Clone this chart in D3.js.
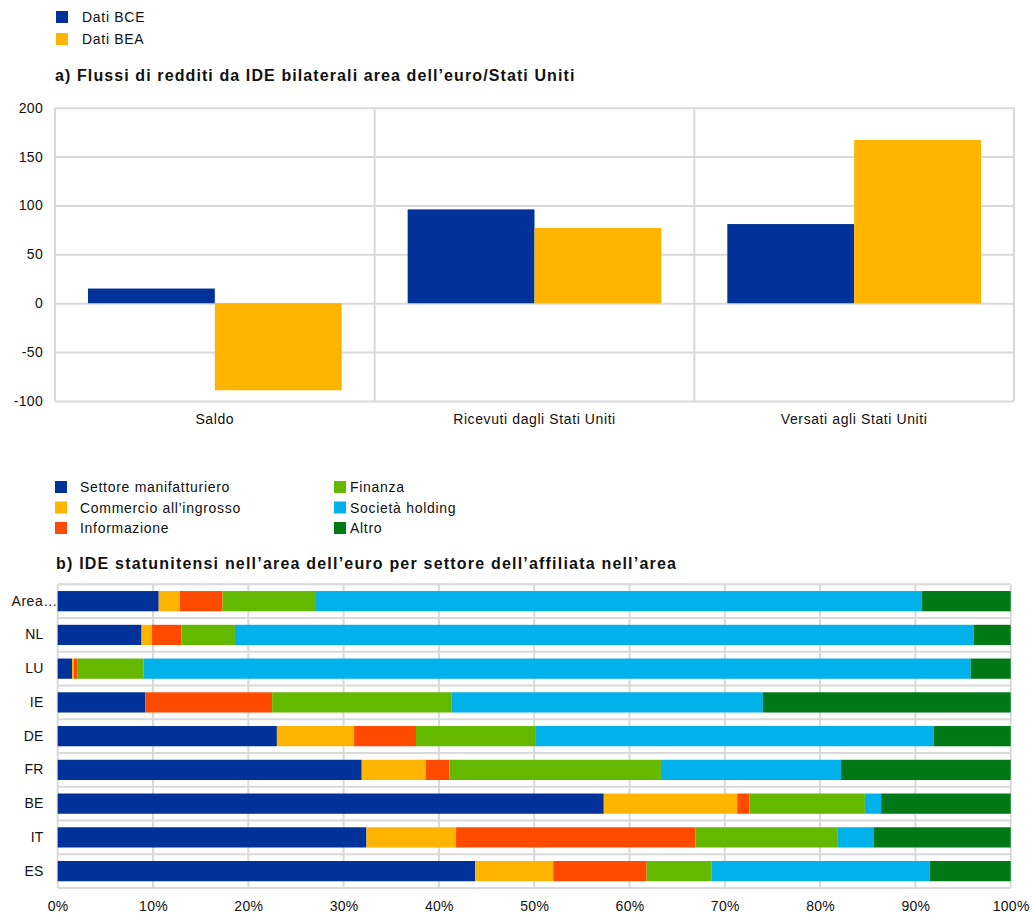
<!DOCTYPE html>
<html>
<head>
<meta charset="utf-8">
<script src="https://cdn.jsdelivr.net/npm/d3@7"></script>
<style>
  html, body { margin: 0; padding: 0; background: #fff; }
  svg { display: block; font-family: "Liberation Sans", Arial, sans-serif; }
</style>
</head>
<body>
<svg id="chart" width="1032" height="917"></svg>
<script>
// Panel a: bilateral FDI income flows (EUR billions)
const flowCategories = ["Saldo", "Ricevuti dagli Stati Uniti", "Versati agli Stati Uniti"];
const flowSeries = ["Dati BCE", "Dati BEA"];
const ecbValues = [15, 96, 81];
const beaValues = [-89, 77, 167];
const flowTicks = [-100, -50, 0, 50, 100, 150, 200];

// Panel b: US FDI in the euro area by sector of the affiliate (% shares)
const countries = ["Area dell'euro", "NL", "LU", "IE", "DE", "FR", "BE", "IT", "ES"];
const countryLabels = ["Area…", "NL", "LU", "IE", "DE", "FR", "BE", "IT", "ES"];
const sectors = ["Settore manifatturiero", "Commercio all’ingrosso", "Informazione", "Finanza", "Società holding", "Altro"];
const manufacturing = [10.6, 8.8, 1.5, 9.2, 23.0, 31.9, 57.3, 32.4, 43.8];
const wholesale     = [2.2, 1.1, 0.2, 0.0, 8.1, 6.7, 14.0, 9.4, 8.2];
const information   = [4.5, 3.1, 0.4, 13.3, 6.5, 2.5, 1.3, 25.1, 9.8];
const finance       = [9.8, 5.6, 6.9, 18.8, 12.5, 22.2, 12.1, 14.9, 6.8];
const holding       = [63.6, 77.5, 86.8, 32.7, 41.8, 18.9, 1.7, 3.8, 22.9];
const other         = [9.3, 3.9, 4.2, 26.0, 8.1, 17.8, 13.6, 14.4, 8.5];
const shareTicks = [0, 10, 20, 30, 40, 50, 60, 70, 80, 90, 100];

const flowColors = ["#003299", "#FFB400"];
const sectorColors = ["#003299", "#FFB400", "#FF4B00", "#65B800", "#00B1EA", "#007816"];
const gridColor = "#d9d9d9";
const textColor = "#111";
const FONT = "Liberation Sans, Arial, sans-serif";

const svg = d3.select("#chart");

function styleLabels(g, spacing) {
  g.selectAll("text").attr("font-size", 14).attr("fill", textColor)
    .attr("font-family", FONT).attr("letter-spacing", spacing);
}

// ---------- legend for panel a ----------
const legA = svg.append("g");
flowSeries.forEach((s, i) => {
  const g = legA.append("g").attr("transform", `translate(56,${11 + i * 22})`);
  g.append("rect").attr("width", 12).attr("height", 12).attr("fill", flowColors[i]);
  g.append("text").attr("x", 26).attr("y", 11).attr("font-size", 14).attr("letter-spacing", 0.7)
    .attr("fill", textColor).text(s);
});

svg.append("text").attr("x", 55).attr("y", 81).attr("font-size", 16).attr("font-weight", "bold")
  .attr("letter-spacing", 1.1).attr("fill", textColor)
  .text("a) Flussi di redditi da IDE bilaterali area dell’euro/Stati Uniti");

// ---------- panel a ----------
const a = { left: 55, right: 1014, top: 107.7, bottom: 401 };
const yA = d3.scaleLinear().domain([-100, 200]).range([a.bottom, a.top]);
const xA = d3.scaleBand().domain(flowCategories).range([a.left, a.right]).padding(0);
const xA1 = d3.scaleBand().domain(flowSeries).range([0, xA.bandwidth()]).paddingInner(0).paddingOuter(0.26);

const gA = svg.append("g");
// horizontal grid
gA.append("g").attr("transform", `translate(${a.left},0)`)
  .call(d3.axisLeft(yA).tickValues(flowTicks).tickSize(-(a.right - a.left)).tickFormat(""))
  .call(g => g.select(".domain").remove())
  .call(g => g.selectAll("line").attr("stroke", gridColor).attr("stroke-width", 2));
// vertical category separators and borders
const sepX = [a.left].concat(flowCategories.map(c => xA(c) + xA.bandwidth()));
gA.selectAll(".sep").data(sepX).join("line")
  .attr("x1", d => d).attr("x2", d => d).attr("y1", a.top).attr("y2", a.bottom)
  .attr("stroke", gridColor).attr("stroke-width", 2);

// bars
const flowRows = flowCategories.map((c, i) => ({ cat: c, vals: [ecbValues[i], beaValues[i]] }));
gA.selectAll(".grp").data(flowRows).join("g")
  .attr("transform", d => `translate(${xA(d.cat)},0)`)
  .selectAll("rect").data(d => d.vals.map((v, j) => ({ s: flowSeries[j], v, j })))
  .join("rect")
  .attr("x", d => xA1(d.s)).attr("width", xA1.bandwidth())
  .attr("y", d => yA(Math.max(0, d.v))).attr("height", d => Math.abs(yA(d.v) - yA(0)))
  .attr("fill", d => flowColors[d.j]);

// y axis labels
gA.append("g").attr("transform", `translate(${a.left},0)`)
  .call(d3.axisLeft(yA).tickValues(flowTicks).tickSize(0).tickPadding(12).tickFormat(d => String(d)))
  .call(g => g.select(".domain").remove())
  .call(g => styleLabels(g, 0.3));
// x axis labels
gA.append("g").attr("transform", `translate(0,${a.bottom})`)
  .call(d3.axisBottom(xA).tickSize(0).tickPadding(13))
  .call(g => g.select(".domain").remove())
  .call(g => styleLabels(g, 0.6));

// ---------- legend for panel b ----------
const legB = svg.append("g");
const legCols = [{ box: 55, text: 80 }, { box: 334, text: 350 }];
sectors.forEach((s, i) => {
  const col = legCols[Math.floor(i / 3)], row = i % 3;
  const y = 481 + row * 20.5;
  legB.append("rect").attr("x", col.box).attr("y", y).attr("width", 12).attr("height", 12)
    .attr("fill", sectorColors[i]);
  legB.append("text").attr("x", col.text).attr("y", y + 11).attr("font-size", 14)
    .attr("letter-spacing", 0.7).attr("fill", textColor).text(s);
});

svg.append("text").attr("x", 56).attr("y", 569).attr("font-size", 16).attr("font-weight", "bold")
  .attr("letter-spacing", 1.2).attr("fill", textColor)
  .text("b) IDE statunitensi nell’area dell’euro per settore dell’affiliata nell’area");

// ---------- panel b ----------
const b = { left: 57.7, right: 1010.7, top: 584.3, bottom: 888 };
const xB = d3.scaleLinear().domain([0, 100]).range([b.left, b.right]);
const yB = d3.scaleBand().domain(countries).range([b.top, b.bottom]).paddingInner(0.4).paddingOuter(0.2);

const gB = svg.append("g");
// horizontal grid at category boundaries
const step = yB.step();
const rowLines = d3.range(countries.length + 1).map(i => b.top + i * step);
gB.selectAll(".hl").data(rowLines).join("line")
  .attr("x1", b.left).attr("x2", b.right).attr("y1", d => d).attr("y2", d => d)
  .attr("stroke", gridColor).attr("stroke-width", 2);
// vertical grid
gB.selectAll(".vl").data(shareTicks).join("line")
  .attr("x1", d => xB(d)).attr("x2", d => xB(d)).attr("y1", b.top).attr("y2", b.bottom)
  .attr("stroke", gridColor).attr("stroke-width", 2);

// stacked bars
const sectorSeries = [manufacturing, wholesale, information, finance, holding, other];
const table = countries.map((c, i) => {
  const row = { country: c };
  sectors.forEach((s, k) => { row[s] = sectorSeries[k][i]; });
  return row;
});
const stacked = d3.stack().keys(sectors)(table);
gB.selectAll(".layer").data(stacked).join("g")
  .attr("fill", (d, k) => sectorColors[k])
  .selectAll("rect").data(d => d).join("rect")
  .attr("x", d => xB(d[0])).attr("width", d => Math.max(0, xB(d[1]) - xB(d[0])))
  .attr("y", d => yB(d.data.country)).attr("height", yB.bandwidth());

// category labels (the truncated euro-area label runs up to the plot edge)
const labelMap = new Map(countries.map((c, i) => [c, countryLabels[i]]));
gB.append("g").attr("transform", `translate(${b.left},0)`)
  .call(d3.axisLeft(yB).tickSize(0).tickPadding(14).tickFormat(c => labelMap.get(c)))
  .call(g => g.select(".domain").remove())
  .call(g => styleLabels(g, 0.3))
  .call(g => g.selectAll("text").filter(c => c === countries[0]).attr("x", 0).attr("letter-spacing", 0.5));
// percentage axis
gB.append("g").attr("transform", `translate(0,${b.bottom})`)
  .call(d3.axisBottom(xB).tickValues(shareTicks).tickSize(0).tickPadding(13).tickFormat(d => d + "%"))
  .call(g => g.select(".domain").remove())
  .call(g => styleLabels(g, 0.3));
</script>
</body>
</html>
